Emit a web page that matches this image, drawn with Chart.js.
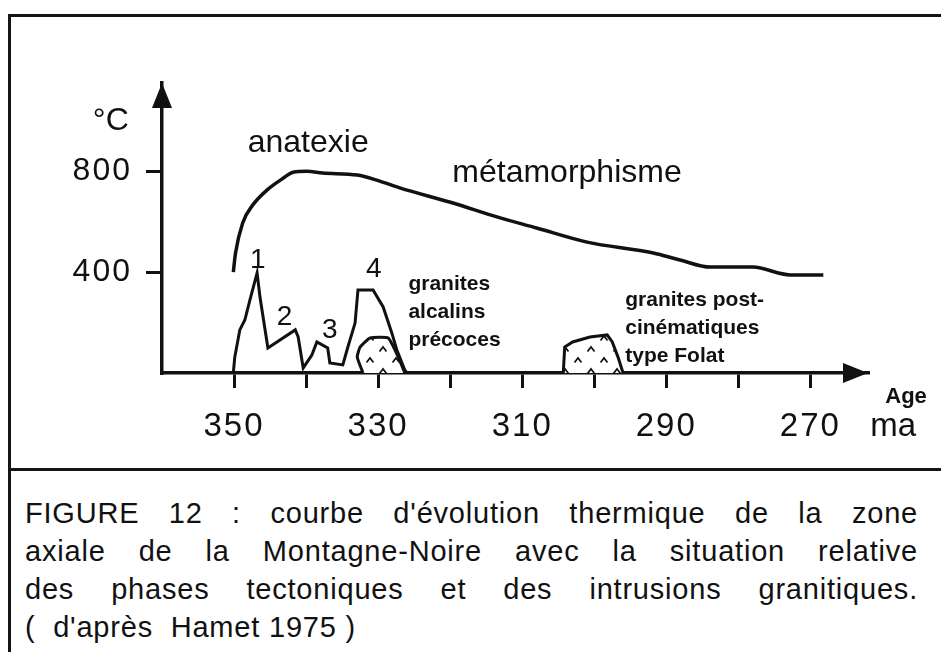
<!DOCTYPE html>
<html>
<head>
<meta charset="utf-8">
<script src="https://cdn.jsdelivr.net/npm/chart.js@4.4.1/dist/chart.umd.min.js"></script>
<style>
  html, body { margin: 0; padding: 0; background: #fff; }
  #page { position: relative; width: 941px; height: 652px; overflow: hidden;
          font-family: "Liberation Sans", Arial, sans-serif; color: #111; }
  #frame { position: absolute; left: 8px; top: 14px; right: -4px; bottom: -4px;
           border-left: 3px solid #151515; border-top: 3px solid #151515; }
  #rule { position: absolute; left: 8px; right: 0; top: 468px; height: 3px; background: #151515; }
  #plot { position: absolute; left: 0; top: 0; }
  #caption { position: absolute; left: 25px; top: 494px; width: 893px; font-size: 29px;
             line-height: 38px; letter-spacing: 0.8px; }
  #caption div { text-align: justify; text-align-last: justify; }
  #caption div.last { text-align: left; text-align-last: left; }
</style>
</head>
<body>
<div id="page">
  <div id="frame"></div>
  <div id="rule"></div>
  <canvas id="plot" width="941" height="470"></canvas>
  <div id="caption">
    <div>FIGURE 12 : courbe d'évolution thermique de la zone</div>
    <div>axiale de la Montagne-Noire avec la situation relative</div>
    <div>des  phases tectoniques et des intrusions granitiques.</div>
    <div class="last">(&nbsp; d'après&nbsp; Hamet 1975 )</div>
  </div>
</div>
<script>
const INK = '#111';
const FONT = '"Liberation Sans", Arial, sans-serif';

// thermal curve (age in Ma, temperature in °C)
const curveAge  = [350.1, 349.8, 348.8, 347.4, 345.4, 343.2, 341.8, 339.9, 337.7, 332.9, 330.2, 327.0, 319.6, 313.5, 308.0, 301.0, 291.8, 288.1, 283.9, 278.0, 272.8, 268.2];
const curveTemp = [400, 475, 595, 666, 726, 772, 796, 800, 793, 785, 765, 734, 674, 619, 575, 519, 476, 448, 420, 420, 389, 389];

// tectonic phases 1-4
const phaseAge  = [350.1, 349.9, 349.2, 348.5, 347.8, 346.8, 346.4, 345.3, 341.5, 341.1, 340.4, 339.2, 338.5, 337.0, 336.7, 334.9, 334.2, 333.2, 332.8, 330.7, 329.3, 328.1, 327.4, 326.3, 326.0];
const phaseTemp = [0, 63, 171, 210, 289, 397, 301, 99, 171, 143, 20, 71, 123, 99, 40, 32, 103, 198, 329, 329, 262, 159, 91, 12, 0];

// granites alcalins précoces
const earlyGraniteAge  = [332.1, 332.9, 332.5, 331.1, 328.6, 327.2, 326.3];
const earlyGraniteTemp = [0, 63, 103, 139, 139, 63, 0];

// granites post-cinématiques type Folat
const folatAge  = [304.3, 304.1, 303.0, 300.6, 298.2, 297.5, 296.7, 296.0];
const folatTemp = [0, 103, 123, 143, 151, 123, 63, 0];

// axes
const xTickValues  = [350, 340, 330, 320, 310, 300, 290, 280, 270];
const xLabelValues = [350, 330, 310, 290, 270];
const yTickValues  = [400, 800];

const toPoints = (ages, temps) => ages.map((a, i) => ({ x: a, y: temps[i] }));

// text written on the drawing, placed in data units
const notes = [
  { text: '°C', age: 369.6, temp: 965, size: 32, align: 'left' },
  { text: 'anatexie', age: 348.1, temp: 876, size: 32, align: 'left' },
  { text: 'métamorphisme', age: 319.7, temp: 757, size: 32, align: 'left' },
  { text: '1', age: 346.7, temp: 416, size: 28, align: 'center' },
  { text: '2', age: 343.0, temp: 190, size: 28, align: 'center' },
  { text: '3', age: 336.7, temp: 139, size: 28, align: 'center' },
  { text: '4', age: 330.6, temp: 380, size: 28, align: 'center' },
  { text: 'granites', age: 325.8, temp: 329, size: 21, bold: true, align: 'left' },
  { text: 'alcalins', age: 325.8, temp: 218, size: 21, bold: true, align: 'left' },
  { text: 'précoces', age: 325.8, temp: 107, size: 21, bold: true, align: 'left' },
  { text: 'granites post-', age: 295.7, temp: 266, size: 21, bold: true, align: 'left' },
  { text: 'cinématiques', age: 295.7, temp: 155, size: 21, bold: true, align: 'left' },
  { text: 'type Folat', age: 295.7, temp: 44, size: 21, bold: true, align: 'left' },
  { text: 'Age', age: 259.6, temp: -119, size: 22, bold: true, align: 'left' },
  { text: 'ma', age: 261.7, temp: -250, size: 33, align: 'left' }
];

// little "^" marks used inside the granite bodies
function caretPattern() {
  const c = document.createElement('canvas');
  c.width = 26; c.height = 22;
  const g = c.getContext('2d');
  g.fillStyle = '#fff';
  g.fillRect(0, 0, 26, 22);
  g.strokeStyle = INK;
  g.lineWidth = 1.7;
  [[6, 8], [19, 19]].forEach(([cx, cy]) => {
    g.beginPath();
    g.moveTo(cx - 3.5, cy + 2.5);
    g.lineTo(cx, cy - 2);
    g.lineTo(cx + 3.5, cy + 2.5);
    g.stroke();
  });
  return g.createPattern(c, 'repeat');
}

const sketch = {
  id: 'sketch',
  beforeDraw(chart) {
    // the scanned tick numbers are a little spread out
    chart.ctx.letterSpacing = '2px';
  },
  afterDraw(chart) {
    const { ctx, chartArea, scales: { x, y } } = chart;
    ctx.save();
    ctx.fillStyle = INK;
    // arrow heads on both axes
    ctx.beginPath();
    ctx.moveTo(chartArea.left, chartArea.top);
    ctx.lineTo(chartArea.left - 10, chartArea.top + 25);
    ctx.lineTo(chartArea.left + 10, chartArea.top + 25);
    ctx.closePath();
    ctx.fill();
    ctx.beginPath();
    ctx.moveTo(chartArea.right, chartArea.bottom);
    ctx.lineTo(chartArea.right - 25, chartArea.bottom - 10);
    ctx.lineTo(chartArea.right - 25, chartArea.bottom + 10);
    ctx.closePath();
    ctx.fill();

    ctx.textBaseline = 'alphabetic';
    notes.forEach(n => {
      ctx.font = (n.bold ? 'bold ' : '') + n.size + 'px ' + FONT;
      ctx.textAlign = n.align;
      ctx.letterSpacing = (n.spacing || 0) + 'px';
      ctx.fillText(n.text, x.getPixelForValue(n.age), y.getPixelForValue(n.temp));
    });
    ctx.restore();
    ctx.letterSpacing = '0px';
  }
};

const hatch = caretPattern();

new Chart(document.getElementById('plot').getContext('2d'), {
  type: 'line',
  data: {
    datasets: [
      { data: toPoints(curveAge, curveTemp), borderColor: INK, borderWidth: 3.5,
        cubicInterpolationMode: 'monotone', fill: false },
      { data: toPoints(phaseAge, phaseTemp), borderColor: INK, borderWidth: 3,
        tension: 0, fill: false },
      { data: toPoints(earlyGraniteAge, earlyGraniteTemp), borderColor: INK, borderWidth: 3,
        tension: 0.15, fill: 'origin', backgroundColor: hatch },
      { data: toPoints(folatAge, folatTemp), borderColor: INK, borderWidth: 3,
        tension: 0, fill: 'origin', backgroundColor: hatch }
    ]
  },
  options: {
    responsive: false,
    animation: false,
    layout: { padding: { top: 83, right: 73, left: 0, bottom: 0 } },
    elements: { point: { radius: 0, hoverRadius: 0 } },
    plugins: { legend: { display: false }, tooltip: { enabled: false } },
    scales: {
      x: {
        type: 'linear', reverse: true, min: 262, max: 360,
        afterBuildTicks: s => { s.ticks = xTickValues.map(v => ({ value: v })); },
        afterFit: s => { s.height = 97; },
        ticks: {
          callback: v => xLabelValues.includes(v) ? String(v) : '',
          font: { size: 33, family: FONT }, color: INK, padding: 19,
          autoSkip: false, maxRotation: 0
        },
        grid: { drawOnChartArea: false, drawTicks: true, tickLength: 15, lineWidth: 3, color: INK },
        border: { display: true, color: INK, width: 3.5 }
      },
      y: {
        type: 'linear', min: 0, max: 1150,
        afterBuildTicks: s => { s.ticks = yTickValues.map(v => ({ value: v })); },
        afterFit: s => { s.width = 162; },
        ticks: { font: { size: 32, family: FONT }, color: INK, padding: 14 },
        grid: { drawOnChartArea: false, drawTicks: true, tickLength: 16, lineWidth: 3, color: INK },
        border: { display: true, color: INK, width: 3.5 }
      }
    }
  },
  plugins: [sketch]
});
</script>
</body>
</html>
